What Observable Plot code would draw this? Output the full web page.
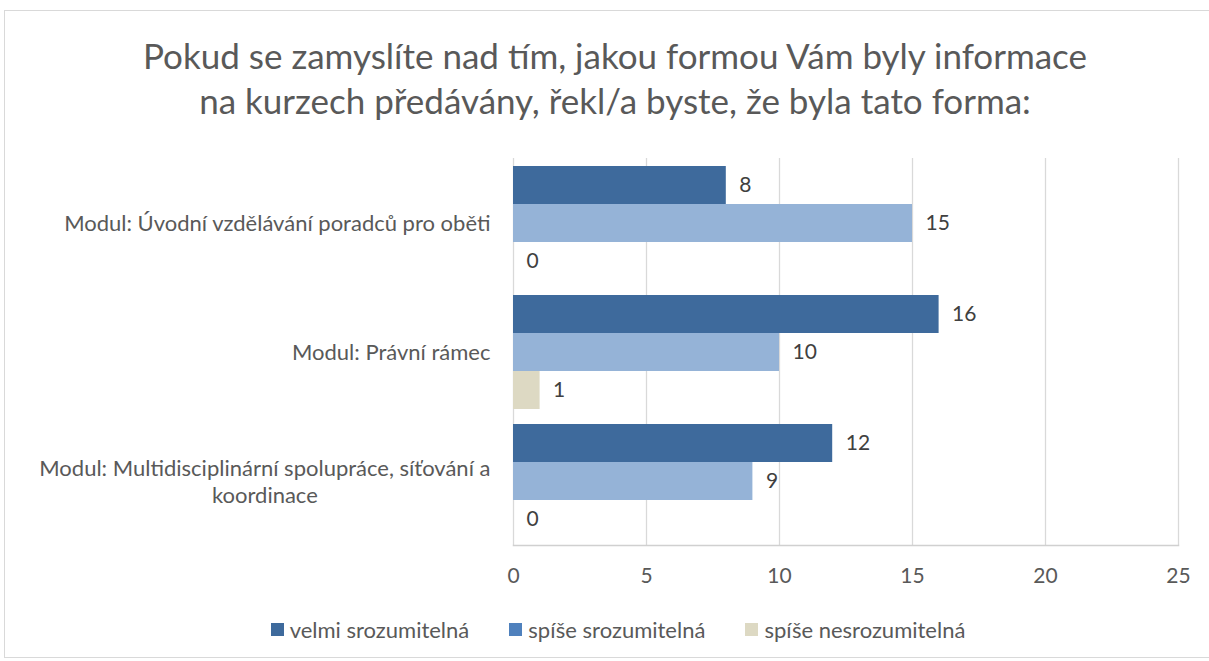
<!DOCTYPE html>
<html>
<head>
<meta charset="utf-8">
<script src="https://cdn.jsdelivr.net/npm/d3@7"></script>
<script src="https://cdn.jsdelivr.net/npm/@observablehq/plot@0.6"></script>
<style>
  html, body { margin: 0; padding: 0; background: #fff; overflow: hidden; }
  body { font-family: Lato, "Open Sans", sans-serif; }
  #wrap { position: relative; width: 1209px; height: 661px; }
  #border { position: absolute; left: 4px; top: 10px; width: 1210px; height: 648px; border: 1px solid #d9d9d9; box-sizing: border-box; }
  #title { position: absolute; left: 0; top: 33px; width: 1230px; text-align: center; font-size: 35px; line-height: 45px; color: #595959; }
  #plot { position: absolute; left: 0; top: 140px; }
  #legend { position: absolute; left: 0; top: 616px; width: 1236px; display: flex; justify-content: center; gap: 40px; font-size: 22px; color: #595959; }
  .item { display: flex; align-items: center; gap: 6px; }
  .sw { width: 13px; height: 13px; display: inline-block; }
</style>
</head>
<body>
<div id="wrap">
  <div id="border"></div>
  <div id="title">Pokud se zamyslíte nad tím, jakou formou Vám byly informace<br>na kurzech předávány, řekl/a byste, že byla tato forma:</div>
  <div id="plot"></div>
  <div id="legend"></div>
</div>
<script>
const modules = [
  "Modul: Úvodní vzdělávání poradců pro oběti",
  "Modul: Právní rámec",
  "Modul: Multidisciplinární spolupráce, síťování a koordinace"
];
const series = ["velmi srozumitelná", "spíše srozumitelná", "spíše nesrozumitelná"];
const velmi = [8, 16, 12];
const spise = [15, 10, 9];
const nesroz = [0, 1, 0];
const xTicks = [0, 5, 10, 15, 20, 25];

const barColors = ["#3e6a9c", "#95b3d7", "#ddd9c3"];
const legendColors = ["#3e6a9c", "#4f81bd", "#ddd9c3"];

const values = [velmi, spise, nesroz];
const data = [];
modules.forEach((m, i) => series.forEach((s, j) => data.push({module: m, series: s, value: values[j][i]})));

const chart = Plot.plot({
  width: 1209,
  height: 470,
  marginLeft: 513,
  marginRight: 31,
  marginTop: 17,
  marginBottom: 65,
  style: {fontFamily: "Lato, 'Open Sans', sans-serif", fontSize: "22px", color: "#595959"},
  x: {domain: [0, 25], ticks: xTicks, label: null},
  y: {domain: series, paddingInner: 0, paddingOuter: 0.18, axis: null},
  fy: {domain: modules, padding: 0, axis: null},
  color: {domain: series, range: barColors},
  marks: [
    Plot.gridX(xTicks, {stroke: "#d9d9d9", strokeOpacity: 1, strokeWidth: 1.3}),
    Plot.frame({anchor: "bottom", facetAnchor: "bottom", stroke: "#d0d0d0", strokeWidth: 1.5}),
    Plot.barX(data, {x: "value", y: "series", fy: "module", fill: "series"}),
    Plot.text(data, {x: "value", y: "series", fy: "module", text: d => String(d.value), textAnchor: "start", dx: 13, fill: "#404040", fontSize: 21}),
    Plot.text(modules, {fy: d => d, frameAnchor: "left", textAnchor: "end", dx: -23, text: d => d, lineWidth: 27, lineHeight: 1.2, fill: "#595959", fontSize: 22}),
    Plot.axisX({ticks: xTicks, tickSize: 0, tickPadding: 23, fontSize: 21, fill: "#595959", label: null})
  ]
});
document.getElementById("plot").appendChild(chart);

// center multi-line category labels like the original
chart.querySelectorAll("text").forEach(t => {
  const spans = t.querySelectorAll("tspan");
  if (spans.length > 1) {
    const w = spans[0].getComputedTextLength();
    t.setAttribute("text-anchor", "middle");
    const tr = t.getAttribute("transform") || "";
    t.setAttribute("transform", tr + ` translate(${-w / 2},0)`);
  }
});

const leg = document.getElementById("legend");
series.forEach((s, i) => {
  const it = document.createElement("div");
  it.className = "item";
  it.innerHTML = `<span class="sw" style="background:${legendColors[i]}"></span><span>${s}</span>`;
  leg.appendChild(it);
});
</script>
</body>
</html>
